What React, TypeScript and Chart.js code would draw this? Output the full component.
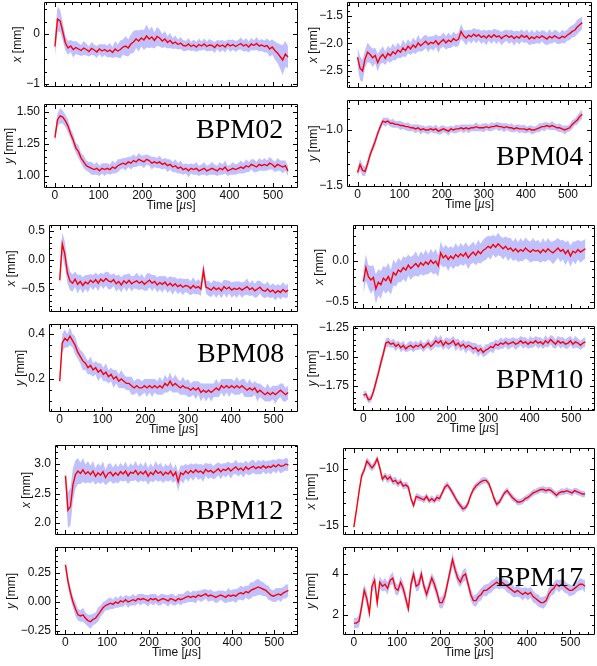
import React, { useEffect, useRef } from 'react';
import { Chart, registerables } from 'chart.js';
Chart.register(...registerables);

// sampling times (µs)
const T = [
  0, 6, 12, 18, 24, 30, 36, 42, 48, 54,
  60, 66, 72, 78, 84, 90, 96, 102, 108, 114,
  120, 126, 132, 138, 144, 150, 156, 162, 168, 174,
  180, 186, 192, 198, 204, 210, 216, 222, 228, 234,
  240, 246, 252, 258, 264, 270, 276, 282, 288, 294,
  300, 306, 312, 318, 324, 330, 336, 342, 348, 354,
  360, 366, 372, 378, 384, 390, 396, 402, 408, 414,
  420, 426, 432, 438, 444, 450, 456, 462, 468, 474,
  480, 486, 492, 498, 504, 510, 516, 522, 528, 534,
];

const X_TICKS = [0, 100, 200, 300, 400, 500];

// ---- BPM02 ----
const bpm02x = [
  -0.25, 0.30, 0.26, 0.05, -0.18, -0.28, -0.24, -0.31, -0.27, -0.30,
  -0.33, -0.28, -0.31, -0.35, -0.29, -0.32, -0.36, -0.30, -0.34, -0.31,
  -0.35, -0.32, -0.37, -0.30, -0.34, -0.31, -0.26, -0.24, -0.28, -0.20,
  -0.16, -0.10, -0.14, -0.08, -0.12, -0.04, -0.10, -0.06, -0.13, -0.05,
  -0.08, -0.14, -0.10, -0.17, -0.13, -0.19, -0.16, -0.21, -0.18, -0.23,
  -0.24, -0.20, -0.25, -0.22, -0.26, -0.21, -0.24, -0.20, -0.25, -0.22,
  -0.23, -0.27, -0.21, -0.25, -0.22, -0.26, -0.20, -0.24, -0.21, -0.25,
  -0.22, -0.19, -0.24, -0.21, -0.26, -0.20, -0.23, -0.19, -0.24, -0.22,
  -0.25, -0.23, -0.30, -0.26, -0.33, -0.38, -0.45, -0.52, -0.40, -0.46,
];
const bpm02xSpread = [
  0.20, 0.25, 0.22, 0.18, 0.15, 0.14, 0.12, 0.16, 0.13, 0.12,
  0.11, 0.14, 0.12, 0.10, 0.13, 0.11, 0.12, 0.10, 0.13, 0.11,
  0.12, 0.14, 0.11, 0.16, 0.13, 0.18, 0.15, 0.20, 0.17, 0.19,
  0.22, 0.18, 0.21, 0.17, 0.20, 0.23, 0.18, 0.21, 0.16, 0.19,
  0.17, 0.14, 0.16, 0.12, 0.15, 0.11, 0.13, 0.10, 0.12, 0.11,
  0.10, 0.12, 0.09, 0.11, 0.10, 0.12, 0.09, 0.11, 0.10, 0.12,
  0.10, 0.11, 0.09, 0.12, 0.10, 0.11, 0.09, 0.12, 0.10, 0.11,
  0.10, 0.12, 0.11, 0.13, 0.11, 0.12, 0.10, 0.13, 0.11, 0.12,
  0.12, 0.14, 0.16, 0.15, 0.18, 0.20, 0.24, 0.30, 0.26, 0.22,
];
const bpm02y = [
  1.30, 1.44, 1.47, 1.46, 1.43, 1.39, 1.33, 1.28, 1.22, 1.19,
  1.14, 1.11, 1.08, 1.07, 1.06, 1.05, 1.06, 1.04, 1.06, 1.05,
  1.06, 1.05, 1.07, 1.06, 1.08, 1.09, 1.10, 1.09, 1.11, 1.10,
  1.12, 1.11, 1.13, 1.12, 1.11, 1.13, 1.12, 1.10, 1.11, 1.10,
  1.11, 1.09, 1.10, 1.08, 1.09, 1.07, 1.08, 1.06, 1.07, 1.05,
  1.06, 1.04, 1.06, 1.05, 1.06, 1.04, 1.05, 1.06, 1.04, 1.05,
  1.06, 1.05, 1.04, 1.06, 1.05, 1.07, 1.04, 1.05, 1.06, 1.05,
  1.06, 1.07, 1.06, 1.08, 1.07, 1.09, 1.08, 1.07, 1.09, 1.08,
  1.09, 1.08, 1.10, 1.09, 1.07, 1.09, 1.08, 1.07, 1.08, 1.04,
];
const bpm02ySpread = [
  0.04, 0.05, 0.06, 0.05, 0.05, 0.05, 0.04, 0.05, 0.04, 0.05,
  0.04, 0.05, 0.04, 0.04, 0.05, 0.04, 0.05, 0.04, 0.04, 0.05,
  0.04, 0.04, 0.05, 0.04, 0.05, 0.04, 0.04, 0.05, 0.04, 0.05,
  0.05, 0.04, 0.05, 0.04, 0.05, 0.04, 0.04, 0.05, 0.04, 0.04,
  0.05, 0.04, 0.04, 0.05, 0.04, 0.04, 0.05, 0.04, 0.05, 0.04,
  0.04, 0.05, 0.04, 0.04, 0.05, 0.04, 0.04, 0.05, 0.04, 0.04,
  0.05, 0.04, 0.04, 0.05, 0.04, 0.05, 0.04, 0.04, 0.05, 0.04,
  0.04, 0.05, 0.04, 0.05, 0.04, 0.04, 0.05, 0.04, 0.05, 0.04,
  0.05, 0.04, 0.05, 0.04, 0.04, 0.05, 0.04, 0.05, 0.04, 0.04,
];

// ---- BPM04 ----
const bpm04x = [
  -2.25, -2.45, -2.50, -2.28, -2.16, -2.20, -2.26, -2.22, -2.35, -2.25,
  -2.20, -2.27, -2.18, -2.22, -2.15, -2.19, -2.12, -2.16, -2.08, -2.13,
  -2.05, -2.10, -2.03, -2.07, -1.99, -2.04, -2.00, -1.96, -2.02, -1.98,
  -2.00, -1.95, -2.02, -1.97, -1.93, -1.99, -1.94, -1.97, -1.91, -1.95,
  -1.92, -1.78, -1.86, -1.90, -1.85, -1.88, -1.83, -1.87, -1.84, -1.89,
  -1.86, -1.90, -1.85, -1.89, -1.84, -1.88, -1.86, -1.91, -1.87, -1.85,
  -1.89, -1.86, -1.91, -1.87, -1.90, -1.85, -1.89, -1.86, -1.92, -1.88,
  -1.91, -1.87, -1.90, -1.86, -1.89, -1.92, -1.87, -1.90, -1.86, -1.89,
  -1.91, -1.87, -1.89, -1.85, -1.82, -1.78, -1.76, -1.70, -1.66, -1.62,
];
const bpm04xSpread = [
  0.18, 0.22, 0.20, 0.16, 0.18, 0.15, 0.17, 0.14, 0.16, 0.13,
  0.15, 0.12, 0.14, 0.13, 0.15, 0.12, 0.14, 0.11, 0.15, 0.12,
  0.13, 0.11, 0.14, 0.12, 0.15, 0.11, 0.13, 0.12, 0.14, 0.11,
  0.13, 0.12, 0.15, 0.11, 0.13, 0.12, 0.14, 0.11, 0.13, 0.12,
  0.12, 0.14, 0.11, 0.13, 0.10, 0.12, 0.11, 0.13, 0.10, 0.12,
  0.11, 0.13, 0.10, 0.12, 0.11, 0.13, 0.10, 0.12, 0.11, 0.10,
  0.12, 0.11, 0.13, 0.10, 0.12, 0.11, 0.10, 0.12, 0.11, 0.13,
  0.10, 0.12, 0.11, 0.10, 0.12, 0.11, 0.13, 0.10, 0.11, 0.12,
  0.10, 0.12, 0.11, 0.10, 0.12, 0.11, 0.12, 0.13, 0.12, 0.11,
];
const bpm04y = [
  -1.38, -1.31, -1.36, -1.37, -1.30, -1.22, -1.16, -1.10, -1.03, -0.97,
  -0.92, -0.93, -0.92, -0.94, -0.94, -0.95, -0.95, -0.96, -0.96, -0.97,
  -0.97, -0.98, -0.98, -0.99, -0.98, -1.00, -0.99, -1.00, -1.00, -0.99,
  -1.00, -0.99, -1.01, -1.00, -0.99, -1.00, -1.01, -0.99, -1.00, -0.99,
  -0.99, -0.98, -0.99, -0.98, -0.99, -0.98, -0.98, -0.97, -0.98, -0.98,
  -0.98, -0.97, -0.98, -0.97, -0.97, -0.96, -0.97, -0.97, -0.98, -0.97,
  -0.98, -0.98, -0.99, -0.98, -0.99, -0.99, -0.99, -1.00, -0.99, -1.00,
  -1.00, -0.99, -0.98, -0.97, -0.97, -0.96, -0.97, -0.96, -0.97, -0.98,
  -0.98, -0.99, -1.00, -0.99, -0.98, -0.95, -0.93, -0.91, -0.88, -0.86,
];
const bpm04ySpread = [
  0.04, 0.05, 0.05, 0.04, 0.04, 0.04, 0.03, 0.04, 0.03, 0.03,
  0.03, 0.04, 0.03, 0.03, 0.04, 0.03, 0.03, 0.04, 0.03, 0.03,
  0.04, 0.03, 0.03, 0.04, 0.03, 0.04, 0.03, 0.03, 0.04, 0.03,
  0.03, 0.04, 0.03, 0.04, 0.03, 0.03, 0.04, 0.03, 0.03, 0.04,
  0.03, 0.03, 0.04, 0.03, 0.04, 0.03, 0.03, 0.04, 0.03, 0.03,
  0.04, 0.03, 0.03, 0.04, 0.03, 0.03, 0.04, 0.03, 0.04, 0.03,
  0.03, 0.04, 0.03, 0.03, 0.04, 0.03, 0.04, 0.03, 0.03, 0.04,
  0.03, 0.03, 0.04, 0.03, 0.04, 0.03, 0.03, 0.04, 0.03, 0.03,
  0.04, 0.03, 0.04, 0.03, 0.03, 0.04, 0.03, 0.04, 0.04, 0.04,
];

// ---- BPM08 ----
const bpm08x = [
  -0.35, 0.28, 0.10, -0.22, -0.36, -0.40, -0.33, -0.42, -0.37, -0.44,
  -0.38, -0.41, -0.35, -0.39, -0.34, -0.40, -0.33, -0.37, -0.32, -0.36,
  -0.38, -0.34, -0.41, -0.37, -0.43, -0.36, -0.40, -0.35, -0.41, -0.38,
  -0.36, -0.40, -0.37, -0.42, -0.38, -0.35, -0.40, -0.37, -0.43, -0.39,
  -0.42, -0.38, -0.44, -0.40, -0.45, -0.41, -0.46, -0.43, -0.47, -0.44,
  -0.45, -0.49, -0.44, -0.48, -0.46, -0.50, -0.18, -0.47, -0.49, -0.52,
  -0.47, -0.51, -0.48, -0.53, -0.46, -0.50, -0.47, -0.52, -0.49, -0.51,
  -0.48, -0.52, -0.49, -0.46, -0.51, -0.48, -0.53, -0.50, -0.47, -0.52,
  -0.54, -0.50, -0.55, -0.52, -0.57, -0.53, -0.56, -0.51, -0.55, -0.52,
];
const bpm08xSpread = [
  0.15, 0.20, 0.22, 0.18, 0.16, 0.15, 0.13, 0.16, 0.12, 0.14,
  0.12, 0.15, 0.11, 0.13, 0.12, 0.14, 0.11, 0.13, 0.12, 0.15,
  0.12, 0.11, 0.14, 0.12, 0.13, 0.11, 0.15, 0.12, 0.13, 0.11,
  0.14, 0.12, 0.13, 0.11, 0.15, 0.12, 0.14, 0.11, 0.13, 0.12,
  0.14, 0.11, 0.13, 0.12, 0.15, 0.11, 0.13, 0.12, 0.14, 0.11,
  0.13, 0.12, 0.14, 0.11, 0.13, 0.12, 0.14, 0.11, 0.13, 0.12,
  0.12, 0.14, 0.11, 0.13, 0.12, 0.15, 0.11, 0.13, 0.12, 0.14,
  0.11, 0.13, 0.12, 0.14, 0.11, 0.13, 0.12, 0.14, 0.11, 0.12,
  0.12, 0.13, 0.11, 0.12, 0.13, 0.11, 0.12, 0.13, 0.11, 0.12,
];
const bpm08y = [
  0.19, 0.36, 0.38, 0.37, 0.39, 0.37, 0.35, 0.32, 0.30, 0.28,
  0.27, 0.25, 0.26, 0.24, 0.25, 0.23, 0.24, 0.22, 0.23, 0.21,
  0.22, 0.20, 0.21, 0.19, 0.20, 0.19, 0.18, 0.18, 0.17, 0.16,
  0.17, 0.16, 0.16, 0.17, 0.16, 0.17, 0.16, 0.17, 0.16, 0.17,
  0.16, 0.18, 0.17, 0.19, 0.17, 0.18, 0.17, 0.16, 0.17, 0.16,
  0.16, 0.15, 0.16, 0.15, 0.16, 0.14, 0.15, 0.14, 0.15, 0.14,
  0.15, 0.16, 0.15, 0.17, 0.16, 0.17, 0.16, 0.17, 0.16, 0.17,
  0.16, 0.17, 0.16, 0.15, 0.16, 0.15, 0.16, 0.14, 0.15, 0.14,
  0.13, 0.14, 0.13, 0.14, 0.13, 0.14, 0.15, 0.14, 0.13, 0.14,
];
const bpm08ySpread = [
  0.03, 0.04, 0.04, 0.03, 0.04, 0.03, 0.04, 0.03, 0.03, 0.04,
  0.03, 0.03, 0.04, 0.03, 0.03, 0.04, 0.03, 0.03, 0.04, 0.03,
  0.03, 0.04, 0.03, 0.03, 0.04, 0.03, 0.03, 0.03, 0.04, 0.03,
  0.03, 0.04, 0.03, 0.03, 0.04, 0.03, 0.04, 0.03, 0.03, 0.04,
  0.03, 0.04, 0.03, 0.04, 0.03, 0.04, 0.03, 0.03, 0.04, 0.03,
  0.04, 0.03, 0.03, 0.04, 0.03, 0.04, 0.03, 0.04, 0.03, 0.04,
  0.03, 0.04, 0.03, 0.03, 0.04, 0.03, 0.04, 0.03, 0.03, 0.04,
  0.03, 0.03, 0.04, 0.03, 0.04, 0.03, 0.03, 0.04, 0.03, 0.03,
  0.03, 0.04, 0.03, 0.03, 0.04, 0.03, 0.03, 0.04, 0.03, 0.03,
];

// ---- BPM10 ----
const bpm10x = [
  -0.25, -0.08, -0.19, -0.23, -0.20, -0.34, -0.26, -0.29, -0.21, -0.24,
  -0.19, -0.26, -0.14, -0.17, -0.11, -0.13, -0.08, -0.11, -0.05, -0.09,
  -0.06, -0.03, -0.07, -0.02, -0.05, -0.01, -0.04, 0.01, -0.03, 0.00,
  -0.06, 0.10, 0.04, 0.07, 0.02, 0.06, 0.03, 0.08, 0.05, 0.09,
  0.06, 0.10, 0.04, 0.08, 0.11, 0.07, 0.12, 0.09, 0.13, 0.15,
  0.18, 0.16, 0.20, 0.17, 0.21, 0.18, 0.15, 0.18, 0.14, 0.16,
  0.12, 0.15, 0.11, 0.14, 0.12, 0.16, 0.13, 0.11, 0.14, 0.12,
  0.13, 0.10, 0.14, 0.11, 0.15, 0.12, 0.10, 0.13, 0.16, 0.12,
  0.14, 0.09, 0.13, 0.06, 0.12, 0.10, 0.14, 0.11, 0.13, 0.15,
];
const bpm10xSpread = [
  0.15, 0.16, 0.14, 0.17, 0.15, 0.18, 0.16, 0.17, 0.15, 0.16,
  0.17, 0.15, 0.16, 0.14, 0.15, 0.13, 0.14, 0.15, 0.13, 0.14,
  0.13, 0.15, 0.12, 0.14, 0.13, 0.15, 0.12, 0.14, 0.13, 0.15,
  0.13, 0.14, 0.12, 0.13, 0.14, 0.12, 0.13, 0.14, 0.12, 0.13,
  0.12, 0.13, 0.14, 0.12, 0.13, 0.12, 0.14, 0.12, 0.13, 0.14,
  0.13, 0.14, 0.12, 0.13, 0.14, 0.12, 0.13, 0.12, 0.14, 0.12,
  0.12, 0.13, 0.12, 0.14, 0.12, 0.13, 0.12, 0.13, 0.14, 0.12,
  0.13, 0.12, 0.14, 0.12, 0.13, 0.12, 0.14, 0.13, 0.12, 0.13,
  0.12, 0.14, 0.12, 0.13, 0.12, 0.14, 0.12, 0.13, 0.12, 0.12,
];
const bpm10y = [
  -1.83, -1.82, -1.87, -1.86, -1.80, -1.72, -1.64, -1.55, -1.47, -1.38,
  -1.37, -1.39, -1.38, -1.41, -1.39, -1.42, -1.40, -1.43, -1.41, -1.40,
  -1.42, -1.40, -1.41, -1.39, -1.42, -1.40, -1.38, -1.41, -1.39, -1.36,
  -1.38, -1.36, -1.40, -1.37, -1.39, -1.38, -1.36, -1.40, -1.38, -1.41,
  -1.39, -1.42, -1.40, -1.41, -1.43, -1.42, -1.45, -1.43, -1.46, -1.44,
  -1.43, -1.41, -1.42, -1.39, -1.40, -1.38, -1.39, -1.37, -1.39, -1.38,
  -1.37, -1.39, -1.38, -1.36, -1.38, -1.37, -1.39, -1.37, -1.38, -1.36,
  -1.38, -1.37, -1.39, -1.36, -1.38, -1.35, -1.37, -1.39, -1.36, -1.38,
  -1.37, -1.39, -1.38, -1.36, -1.39, -1.37, -1.38, -1.40, -1.38, -1.37,
];
const bpm10ySpread = [
  0.03, 0.03, 0.03, 0.03, 0.03, 0.04, 0.04, 0.04, 0.04, 0.04,
  0.04, 0.03, 0.04, 0.04, 0.03, 0.04, 0.04, 0.03, 0.04, 0.04,
  0.04, 0.04, 0.03, 0.04, 0.04, 0.03, 0.04, 0.04, 0.04, 0.05,
  0.04, 0.05, 0.04, 0.04, 0.05, 0.04, 0.04, 0.05, 0.04, 0.04,
  0.04, 0.05, 0.04, 0.04, 0.05, 0.04, 0.05, 0.04, 0.04, 0.05,
  0.04, 0.04, 0.05, 0.04, 0.04, 0.05, 0.04, 0.04, 0.05, 0.04,
  0.04, 0.05, 0.04, 0.04, 0.05, 0.04, 0.04, 0.05, 0.04, 0.04,
  0.05, 0.04, 0.04, 0.05, 0.04, 0.04, 0.05, 0.04, 0.04, 0.05,
  0.04, 0.04, 0.05, 0.04, 0.04, 0.05, 0.04, 0.04, 0.04, 0.04,
];

// ---- BPM12 ----
const bpm12x = [
  2.80, 2.22, 2.28, 2.65, 2.82, 2.88, 2.84, 2.90, 2.83, 2.87,
  2.82, 2.88, 2.79, 2.85, 2.81, 2.87, 2.77, 2.84, 2.86, 2.80,
  2.85, 2.81, 2.87, 2.83, 2.88, 2.80, 2.86, 2.84, 2.89, 2.82,
  2.87, 2.83, 2.88, 2.79, 2.86, 2.82, 2.89, 2.84, 2.87, 2.81,
  2.86, 2.83, 2.88, 2.80, 2.86, 2.70, 2.85, 2.82, 2.88, 2.84,
  2.89, 2.85, 2.90, 2.86, 2.88, 2.84, 2.91, 2.87, 2.89, 2.85,
  2.88, 2.92, 2.87, 2.91, 2.89, 2.93, 2.88, 2.92, 2.95, 2.90,
  2.93, 2.89, 2.95, 2.91, 2.94, 2.96, 2.92, 2.95, 2.93, 2.97,
  2.93, 2.96, 2.94, 2.98, 2.95, 2.99, 2.96, 2.97, 3.00, 2.98,
];
const bpm12xSpread = [
  0.15, 0.30, 0.32, 0.28, 0.24, 0.22, 0.18, 0.20, 0.16, 0.18,
  0.15, 0.17, 0.14, 0.16, 0.15, 0.17, 0.13, 0.16, 0.15, 0.14,
  0.16, 0.14, 0.15, 0.13, 0.16, 0.14, 0.15, 0.13, 0.16, 0.14,
  0.15, 0.13, 0.16, 0.14, 0.15, 0.13, 0.16, 0.14, 0.15, 0.13,
  0.14, 0.13, 0.15, 0.12, 0.14, 0.16, 0.13, 0.15, 0.12, 0.14,
  0.12, 0.14, 0.11, 0.13, 0.12, 0.14, 0.11, 0.13, 0.12, 0.11,
  0.12, 0.11, 0.13, 0.10, 0.12, 0.11, 0.13, 0.10, 0.12, 0.11,
  0.10, 0.12, 0.11, 0.10, 0.12, 0.11, 0.10, 0.12, 0.11, 0.10,
  0.11, 0.10, 0.12, 0.10, 0.11, 0.10, 0.12, 0.10, 0.11, 0.10,
];
const bpm12y = [
  0.32, 0.18, 0.08, 0.00, -0.06, -0.11, -0.12, -0.11, -0.14, -0.16,
  -0.17, -0.15, -0.14, -0.11, -0.08, -0.05, -0.03, -0.02, -0.01, -0.02,
  0.00, -0.01, 0.01, 0.00, 0.02, 0.00, 0.01, 0.02, 0.01, 0.03,
  0.02, 0.03, 0.02, 0.01, 0.03, 0.02, 0.03, 0.01, 0.02, 0.03,
  0.02, 0.01, 0.03, 0.02, 0.01, 0.03, 0.02, 0.03, 0.04, 0.05,
  0.04, 0.05, 0.04, 0.06, 0.05, 0.06, 0.07, 0.05, 0.06, 0.05,
  0.04, 0.05, 0.06, 0.05, 0.04, 0.06, 0.05, 0.06, 0.05, 0.07,
  0.08, 0.07, 0.09, 0.08, 0.10, 0.11, 0.12, 0.13, 0.12, 0.11,
  0.10, 0.08, 0.06, 0.05, 0.06, 0.07, 0.06, 0.08, 0.09, 0.10,
];
const bpm12ySpread = [
  0.05, 0.05, 0.05, 0.05, 0.06, 0.05, 0.05, 0.06, 0.05, 0.05,
  0.06, 0.05, 0.05, 0.06, 0.05, 0.05, 0.04, 0.05, 0.05, 0.04,
  0.05, 0.04, 0.05, 0.04, 0.04, 0.05, 0.04, 0.05, 0.04, 0.04,
  0.05, 0.04, 0.04, 0.05, 0.04, 0.05, 0.04, 0.04, 0.05, 0.04,
  0.04, 0.05, 0.04, 0.05, 0.04, 0.04, 0.05, 0.04, 0.05, 0.05,
  0.04, 0.05, 0.05, 0.04, 0.05, 0.05, 0.04, 0.05, 0.05, 0.04,
  0.05, 0.05, 0.04, 0.05, 0.05, 0.06, 0.05, 0.05, 0.06, 0.05,
  0.06, 0.06, 0.05, 0.06, 0.07, 0.06, 0.07, 0.07, 0.06, 0.06,
  0.05, 0.06, 0.05, 0.05, 0.06, 0.05, 0.06, 0.05, 0.06, 0.05,
];

// ---- BPM17 ----
const bpm17x = [
  -15.1, -13.6, -12.0, -10.6, -10.1, -9.3, -9.6, -9.9, -9.6, -9.1,
  -9.9, -10.9, -10.6, -10.9, -10.7, -11.1, -11.0, -11.3, -11.1, -11.5,
  -11.4, -11.6, -12.6, -13.2, -12.4, -12.5, -12.6, -12.7, -12.4, -12.8,
  -12.6, -12.8, -12.5, -12.6, -12.1, -11.6, -11.4, -11.7, -12.1, -12.5,
  -12.9, -13.2, -13.5, -13.4, -13.0, -12.3, -11.8, -11.5, -11.3, -11.1,
  -11.0, -11.0, -11.3, -11.9, -12.6, -13.1, -12.9, -12.5, -12.1, -11.9,
  -12.2, -12.5, -12.7, -12.9, -12.9, -12.8, -12.6, -12.5, -12.3, -12.1,
  -12.0, -11.9, -11.8, -11.8, -11.9, -11.8, -11.9, -12.1, -12.3, -12.1,
  -12.0, -12.0, -11.9, -12.0, -12.1, -11.9, -12.0, -12.1, -12.2, -12.2,
];
const bpm17xSpread = [
  0.25, 0.25, 0.25, 0.30, 0.30, 0.35, 0.35, 0.30, 0.35, 0.30,
  0.35, 0.30, 0.30, 0.35, 0.30, 0.30, 0.35, 0.30, 0.30, 0.30,
  0.30, 0.30, 0.30, 0.30, 0.30, 0.30, 0.25, 0.30, 0.30, 0.25,
  0.30, 0.25, 0.30, 0.30, 0.25, 0.30, 0.30, 0.25, 0.30, 0.30,
  0.25, 0.30, 0.30, 0.25, 0.30, 0.25, 0.30, 0.30, 0.25, 0.30,
  0.30, 0.25, 0.30, 0.25, 0.30, 0.30, 0.25, 0.30, 0.25, 0.30,
  0.25, 0.30, 0.25, 0.30, 0.25, 0.30, 0.25, 0.30, 0.25, 0.30,
  0.25, 0.30, 0.25, 0.30, 0.30, 0.25, 0.30, 0.25, 0.30, 0.25,
  0.30, 0.25, 0.30, 0.25, 0.30, 0.25, 0.30, 0.25, 0.30, 0.25,
];
const bpm17y = [
  1.6, 1.6, 1.7, 2.4, 3.2, 2.8, 2.1, 3.4, 3.7, 2.6,
  3.6, 3.4, 3.5, 3.3, 3.7, 3.8, 3.3, 3.2, 3.6, 3.3,
  2.8, 2.3, 3.5, 4.0, 3.4, 3.5, 4.0, 3.4, 3.0, 3.4,
  3.8, 3.5, 3.1, 2.6, 2.6, 2.9, 3.5, 4.1, 4.7, 4.2,
  3.8, 3.6, 3.9, 4.0, 3.5, 3.0, 2.7, 2.7, 2.9, 3.0,
  3.2, 3.2, 3.3, 3.4, 3.5, 3.6, 3.5, 3.6, 3.5, 3.4,
  3.3, 3.2, 3.1, 3.2, 3.1, 3.0, 3.1, 3.0, 3.1, 2.9,
  2.8, 2.7, 2.6, 2.6, 2.7, 3.0, 3.2, 3.3, 3.5, 3.4,
  3.5, 3.4, 3.3, 3.2, 3.2, 3.3, 3.4, 3.5, 3.5, 3.4,
];
const bpm17ySpread = [
  0.25, 0.25, 0.30, 0.30, 0.30, 0.35, 0.30, 0.30, 0.35, 0.30,
  0.30, 0.25, 0.30, 0.30, 0.25, 0.30, 0.30, 0.25, 0.30, 0.30,
  0.30, 0.25, 0.30, 0.30, 0.25, 0.30, 0.30, 0.25, 0.30, 0.30,
  0.25, 0.30, 0.30, 0.25, 0.30, 0.30, 0.25, 0.30, 0.35, 0.30,
  0.30, 0.25, 0.30, 0.30, 0.25, 0.30, 0.25, 0.30, 0.25, 0.30,
  0.25, 0.30, 0.25, 0.30, 0.25, 0.30, 0.25, 0.30, 0.25, 0.30,
  0.25, 0.30, 0.25, 0.30, 0.25, 0.30, 0.25, 0.30, 0.25, 0.30,
  0.25, 0.30, 0.25, 0.30, 0.25, 0.30, 0.25, 0.30, 0.25, 0.30,
  0.25, 0.30, 0.25, 0.30, 0.25, 0.30, 0.25, 0.30, 0.25, 0.30,
];

type Cfg = {
  id: string;
  v: string; // axis variable: x or y
  L: number; T: number; R: number; B: number; // frame in page px
  yMin: number; yMax: number;
  majors: number[]; minor: number; dec: number;
  titleX: number;
  values: number[]; spread: number[];
  showTime: boolean;
};

const X_MIN = -25;
const X_MAX = 557;

const PANELS: Cfg[] = [
  { id: 'p1', v: 'x', L: 44, T: 2, R: 298, B: 87, yMin: -1.06, yMax: 0.64, majors: [-1, 0], minor: 0.25, dec: 0, titleX: 18, values: bpm02x, spread: bpm02xSpread, showTime: false },
  { id: 'p2', v: 'y', L: 44, T: 104, R: 298, B: 188, yMin: 0.906, yMax: 1.5625, majors: [1.0, 1.25, 1.5], minor: 0.05, dec: 2, titleX: 10, values: bpm02y, spread: bpm02ySpread, showTime: true },
  { id: 'p3', v: 'x', L: 347, T: 2, R: 592, B: 88, yMin: -2.81, yMax: -1.245, majors: [-2.5, -2.0, -1.5], minor: 0.1, dec: 1, titleX: 314, values: bpm04x, spread: bpm04xSpread, showTime: false },
  { id: 'p4', v: 'y', L: 347, T: 100, R: 592, B: 187, yMin: -1.509, yMax: -0.732, majors: [-1.5, -1.0], minor: 0.1, dec: 1, titleX: 314, values: bpm04y, spread: bpm04ySpread, showTime: true },
  { id: 'p5', v: 'x', L: 49, T: 225, R: 298, B: 312, yMin: -0.897, yMax: 0.603, majors: [-0.5, 0.0, 0.5], minor: 0.1, dec: 1, titleX: 12, values: bpm08x, spread: bpm08xSpread, showTime: false },
  { id: 'p6', v: 'y', L: 49, T: 324, R: 298, B: 412, yMin: 0.053, yMax: 0.444, majors: [0.2, 0.4], minor: 0.05, dec: 1, titleX: 21, values: bpm08y, spread: bpm08ySpread, showTime: true },
  { id: 'p7', v: 'x', L: 353, T: 225, R: 595, B: 309, yMin: -0.585, yMax: 0.44, majors: [-0.5, 0.0], minor: 0.1, dec: 1, titleX: 320, values: bpm10x, spread: bpm10xSpread, showTime: false },
  { id: 'p8', v: 'y', L: 353, T: 326, R: 595, B: 411, yMin: -1.966, yMax: -1.233, majors: [-1.75, -1.5, -1.25], minor: 0.05, dec: 2, titleX: 313, values: bpm10y, spread: bpm10ySpread, showTime: true },
  { id: 'p9', v: 'x', L: 55, T: 445, R: 298, B: 535, yMin: 1.8, yMax: 3.32, majors: [2.0, 2.5, 3.0], minor: 0.1, dec: 1, titleX: 27, values: bpm12x, spread: bpm12xSpread, showTime: false },
  { id: 'p10', v: 'y', L: 55, T: 547, R: 298, B: 635, yMin: -0.284, yMax: 0.474, majors: [-0.25, 0.0, 0.25], minor: 0.05, dec: 2, titleX: 12, values: bpm12y, spread: bpm12ySpread, showTime: true },
  { id: 'p11', v: 'x', L: 343, T: 448, R: 595, B: 535, yMin: -15.79, yMax: -8.16, majors: [-15, -10], minor: 1, dec: 0, titleX: 312, values: bpm17x, spread: bpm17xSpread, showTime: false },
  { id: 'p12', v: 'y', L: 343, T: 547, R: 595, B: 635, yMin: 1.02, yMax: 5.32, majors: [2, 4], minor: 0.5, dec: 0, titleX: 312, values: bpm17y, spread: bpm17ySpread, showTime: true },
];

const LABELS = [
  { text: 'BPM02', left: 196, base: 138 },
  { text: 'BPM04', left: 496, base: 165 },
  { text: 'BPM08', left: 197, base: 362 },
  { text: 'BPM10', left: 496, base: 388 },
  { text: 'BPM12', left: 196, base: 519 },
  { text: 'BPM17', left: 496, base: 586 },
];

const SANS = '"Liberation Sans", Arial, Helvetica, sans-serif';
const PAD_L = 50, PAD_T = 4, PAD_R = 4;

function fmt(v: number, dec: number) {
  let s = v.toFixed(dec);
  if (Math.abs(v) < 1e-9) s = (0).toFixed(dec);
  return s.replace('-', '\u2212');
}

function drawParts(ctx: CanvasRenderingContext2D, parts: [string, boolean][], size: number) {
  const fonts = parts.map(([, it]) => `${it ? 'italic ' : ''}${size}px ${SANS}`);
  let w = 0;
  const ws = parts.map(([t], i) => { ctx.font = fonts[i]; const m = ctx.measureText(t).width; w += m; return m; });
  let x = -w / 2;
  parts.forEach(([t], i) => { ctx.font = fonts[i]; ctx.fillText(t, x, 0); x += ws[i]; });
}

function makeFrame(cfg: Cfg) {
  return {
    id: 'frame_' + cfg.id,
    afterDatasetsDraw(chart: any) {
      const { ctx, chartArea: a } = chart;
      const xs = chart.scales.x, ys = chart.scales.y;
      ctx.save();
      ctx.strokeStyle = '#000';
      ctx.lineWidth = 1;
      ctx.beginPath();
      ctx.rect(a.left + 0.5, a.top + 0.5, a.right - a.left - 1, a.bottom - a.top - 1);
      for (let v = -20; v <= 540; v += 20) {
        const px = Math.round(xs.getPixelForValue(v)) + 0.5;
        if (px <= a.left + 1 || px >= a.right - 1) continue;
        const len = v % 100 === 0 ? 5 : 3;
        ctx.moveTo(px, a.bottom); ctx.lineTo(px, a.bottom - len);
        ctx.moveTo(px, a.top); ctx.lineTo(px, a.top + len);
      }
      const k0 = Math.ceil(cfg.yMin / cfg.minor - 1e-6);
      for (let k = k0; k * cfg.minor <= cfg.yMax + 1e-9; k++) {
        const v = k * cfg.minor;
        const major = cfg.majors.some((m) => Math.abs(m - v) < 1e-6);
        const py = Math.round(ys.getPixelForValue(v)) + 0.5;
        if (py <= a.top + 1 || py >= a.bottom - 1) continue;
        const len = major ? 5 : 3;
        ctx.moveTo(a.left, py); ctx.lineTo(a.left + len, py);
        ctx.moveTo(a.right, py); ctx.lineTo(a.right - len, py);
      }
      ctx.stroke();

      ctx.fillStyle = '#111';
      ctx.font = `12px ${SANS}`;
      ctx.textAlign = 'right';
      ctx.textBaseline = 'middle';
      cfg.majors.forEach((m) => ctx.fillText(fmt(m, cfg.dec), a.left - 4, ys.getPixelForValue(m)));

      if (cfg.showTime) {
        ctx.textAlign = 'center';
        ctx.textBaseline = 'top';
        X_TICKS.forEach((t) => ctx.fillText(String(t), xs.getPixelForValue(t), a.bottom + 2));
        ctx.save();
        ctx.translate((a.left + a.right) / 2, a.bottom + 12);
        ctx.textAlign = 'left';
        drawParts(ctx, [['Time [', false], ['\u00b5', true], ['s]', false]], 12);
        ctx.restore();
      }

      ctx.save();
      ctx.translate(cfg.titleX - (cfg.L - PAD_L), (a.top + a.bottom) / 2);
      ctx.rotate(-Math.PI / 2);
      ctx.textAlign = 'left';
      ctx.textBaseline = 'middle';
      drawParts(ctx, [[cfg.v, true], [' [mm]', false]], 12);
      ctx.restore();

      ctx.restore();
    },
  };
}

function Panel({ cfg }: { cfg: Cfg }) {
  const ref = useRef<HTMLCanvasElement>(null);
  const padB = cfg.showTime ? 30 : 6;
  const cw = cfg.R - cfg.L + PAD_L + PAD_R;
  const ch = cfg.B - cfg.T + PAD_T + padB;
  useEffect(() => {
    if (!ref.current) return;
    const mid = T.map((t, i) => ({ x: t, y: cfg.values[i] }));
    const up = T.map((t, i) => ({ x: t, y: cfg.values[i] + cfg.spread[i] }));
    const lo = T.map((t, i) => ({ x: t, y: cfg.values[i] - cfg.spread[i] }));
    const chart = new Chart(ref.current, {
      type: 'line',
      data: {
        datasets: [
          { data: mid, borderColor: '#ff0000', borderWidth: 1.4, pointRadius: 0, fill: false },
          { data: up, borderWidth: 0, borderColor: 'rgba(0,0,0,0)', pointRadius: 0, fill: '+1', backgroundColor: 'rgba(140,140,255,0.55)' },
          { data: lo, borderWidth: 0, borderColor: 'rgba(0,0,0,0)', pointRadius: 0, fill: false },
        ],
      },
      options: {
        animation: false,
        responsive: false,
        devicePixelRatio: 1,
        layout: { padding: { left: PAD_L, top: PAD_T, right: PAD_R, bottom: padB } },
        scales: {
          x: { type: 'linear', min: X_MIN, max: X_MAX, display: false },
          y: { type: 'linear', min: cfg.yMin, max: cfg.yMax, display: false },
        },
        elements: { line: { tension: 0 }, point: { radius: 0 } },
        plugins: { legend: { display: false }, tooltip: { enabled: false } },
      },
      plugins: [makeFrame(cfg)],
    } as any);
    return () => chart.destroy();
  }, []);
  return (
    <canvas
      ref={ref}
      width={cw}
      height={ch}
      style={{ position: 'absolute', left: cfg.L - PAD_L, top: cfg.T - PAD_T, width: cw, height: ch }}
    />
  );
}

export default function App() {
  const fs = 28;
  return (
    <div style={{ position: 'absolute', left: 0, top: 0, width: 597, height: 666, background: '#fff', overflow: 'hidden' }}>
      {PANELS.map((p) => (
        <Panel key={p.id} cfg={p} />
      ))}
      {LABELS.map((l) => (
        <div
          key={l.text}
          style={{
            position: 'absolute',
            left: l.left,
            top: l.base - fs * 0.8375,
            fontFamily: '"Liberation Serif", "Times New Roman", serif',
            fontSize: fs,
            lineHeight: `${fs}px`,
            color: '#000',
            whiteSpace: 'nowrap',
          }}
        >
          {l.text}
        </div>
      ))}
    </div>
  );
}
